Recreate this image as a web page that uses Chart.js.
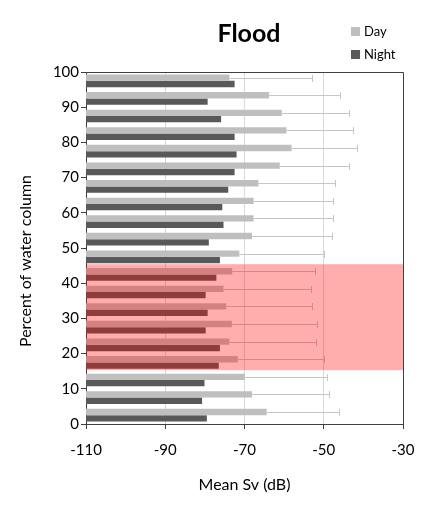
<!DOCTYPE html>
<html>
<head>
<meta charset="utf-8">
<title>Flood</title>
<script src="https://cdn.jsdelivr.net/npm/chart.js@4"></script>
<style>
  html, body { margin: 0; padding: 0; background: #fff; }
  #wrap { position: relative; width: 446px; height: 510px; }
</style>
</head>
<body>
<div id="wrap"><canvas id="c"></canvas></div>
<script>
// Depth bins (percent of water column), bottom to top
const binMid = [2.5, 7.5, 12.5, 17.5, 22.5, 27.5, 32.5, 37.5, 42.5, 47.5,
                52.5, 57.5, 62.5, 67.5, 72.5, 77.5, 82.5, 87.5, 92.5, 97.5];
// Mean Sv (dB) per bin
const dayMean = [-64.4, -68.1, -69.9, -71.7, -73.8, -73.2, -74.6, -75.3, -73.1, -71.3,
                 -68.1, -67.7, -67.7, -66.5, -61.1, -58.1, -59.4, -60.6, -63.8, -73.8];
const daySD   = [18.2, 19.4, 20.6, 21.7, 21.8, 21.6, 21.6, 22.2, 21.0, 21.3,
                 20.2, 20.0, 20.0, 19.4, 17.5, 16.4, 16.9, 17.0, 17.9, 20.8];
const nightMean = [-79.5, -80.7, -80.1, -76.5, -76.2, -79.8, -79.3, -79.8, -77.1, -76.2,
                   -79.0, -75.3, -75.6, -74.1, -72.5, -72.0, -72.5, -75.9, -79.3, -72.5];
// Highlighted depth range
const bandRange = [15.3, 45.4];
const xTicks = [-110, -90, -70, -50, -30];
const yMin = 0, yMax = 100;
const xMin = -110, xMax = -30;

const FONT = 'Lato, "Open Sans", sans-serif';

function barsFrom(values) {
  return values.map((v, i) => ({ x: [xMin, v], y: binMid[i] }));
}

// Error whiskers, highlight band, frame, title, legend and y title
const decor = {
  id: 'decor',
  afterDatasetsDraw(chart) {
    const { ctx, chartArea: a, scales: { x, y } } = chart;
    const meta = chart.getDatasetMeta(0);
    ctx.save();
    ctx.strokeStyle = '#c6c6c6';
    ctx.lineWidth = 1;
    meta.data.forEach((bar, i) => {
      const yc = Math.round(bar.y) + 0.5;
      const x0 = x.getPixelForValue(dayMean[i]);
      const x1 = Math.round(x.getPixelForValue(dayMean[i] + daySD[i])) + 0.5;
      const h = 3.5;
      ctx.beginPath();
      ctx.moveTo(x0, yc); ctx.lineTo(x1, yc);
      ctx.moveTo(x1, yc - h); ctx.lineTo(x1, yc + h);
      ctx.stroke();
    });
    // translucent red band over the mid-water layer
    const yt = y.getPixelForValue(bandRange[1]);
    const yb = y.getPixelForValue(bandRange[0]);
    ctx.fillStyle = 'rgba(255, 0, 0, 0.32)';
    ctx.fillRect(a.left, yt, a.right - a.left, yb - yt);
    // plot frame (top and right edges)
    ctx.strokeStyle = '#404040';
    ctx.beginPath();
    ctx.moveTo(a.left, a.top + 0.5); ctx.lineTo(a.right + 0.5, a.top + 0.5);
    ctx.lineTo(a.right + 0.5, a.bottom);
    ctx.stroke();
    ctx.restore();
  },
  afterDraw(chart) {
    const { ctx } = chart;
    ctx.save();
    ctx.fillStyle = '#000';
    ctx.font = 'bold 25px ' + FONT;
    ctx.textAlign = 'center';
    ctx.textBaseline = 'alphabetic';
    ctx.fillText('Flood', 249, 42);
    // legend
    ctx.font = '13px ' + FONT;
    ctx.textAlign = 'left';
    ctx.textBaseline = 'middle';
    chart.data.datasets.forEach((ds, i) => {
      const top = 27 + i * 23;
      ctx.fillStyle = ds.backgroundColor;
      ctx.fillRect(351, top, 9, 9);
      ctx.fillStyle = '#000';
      ctx.fillText(ds.label, 364, top + 4.5);
    });
    // y axis title
    ctx.translate(26, 261);
    ctx.rotate(-Math.PI / 2);
    ctx.font = '16px ' + FONT;
    ctx.textAlign = 'center';
    ctx.fillText('Percent of water column', 0, 0);
    ctx.restore();
  }
};

new Chart(document.getElementById('c'), {
  type: 'bar',
  data: {
    datasets: [
      { label: 'Day', data: barsFrom(dayMean), backgroundColor: '#bfbfbf', borderWidth: 0 },
      { label: 'Night', data: barsFrom(nightMean), backgroundColor: '#595959', borderWidth: 0 }
    ]
  },
  options: {
    indexAxis: 'y',
    responsive: true,
    maintainAspectRatio: false,
    animation: false,
    categoryPercentage: 0.72,
    barPercentage: 1.0,
    layout: { padding: { top: 72, right: 43, left: 0, bottom: 0 } },
    plugins: {
      legend: { display: false },
      title: { display: false },
      tooltip: { enabled: false }
    },
    scales: {
      x: {
        type: 'linear',
        min: xMin, max: xMax,
        afterBuildTicks: (s) => { s.ticks = xTicks.map(v => ({ value: v })); },
        afterFit: (s) => { s.height = 86; },
        grid: { color: '#d9d9d9', tickColor: '#404040', tickLength: 5 },
        border: { color: '#404040', width: 1 },
        ticks: { color: '#000', font: { family: FONT, size: 15 }, padding: 12, maxRotation: 0 },
        title: { display: true, text: 'Mean Sv (dB)', color: '#000',
                 font: { family: FONT, size: 16 }, padding: { top: 0, bottom: 16 } }
      },
      y: {
        type: 'linear',
        min: yMin, max: yMax,
        offset: false,
        afterFit: (s) => { s.width = 86; },
        grid: { offset: false, drawOnChartArea: false, tickColor: '#404040', tickLength: 5 },
        border: { color: '#404040', width: 1 },
        ticks: {
          stepSize: 5, color: '#000', padding: 2,
          font: { family: FONT, size: 15 },
          callback: (v) => (v % 10 === 0 ? String(v) : '')
        }
      }
    }
  },
  plugins: [decor]
});
</script>
</body>
</html>
